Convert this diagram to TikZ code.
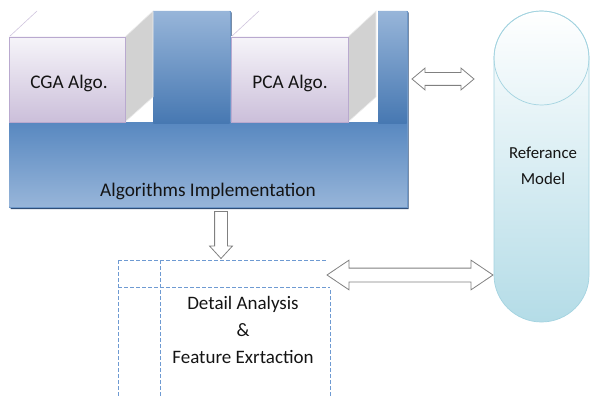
\documentclass[tikz,border=0pt]{standalone}
\usepackage{fontspec}
\setmainfont{Carlito}
\usetikzlibrary{shapes.arrows,calc}
\definecolor{bluelt}{HTML}{97B5D9}
\definecolor{bluedk}{HTML}{4A7EBB}
\definecolor{blueedge}{HTML}{2F4E78}
\definecolor{lavlt}{HTML}{F6F4F9}
\definecolor{lavdk}{HTML}{CBBFDA}
\definecolor{lavedge}{HTML}{B9A9CF}
\definecolor{sidegray}{HTML}{D2D2D2}
\definecolor{cylbot}{HTML}{B4DCE7}
\definecolor{cyledge}{HTML}{A3D3E0}
\definecolor{dashblue}{HTML}{6E9AD2}
\definecolor{arrgray}{HTML}{808080}
\definecolor{txt}{HTML}{141414}
\begin{document}
\begin{tikzpicture}[x=1pt,y=-1pt,
  lbl/.style={text=txt,inner sep=0pt,align=center},
  front/.style={top color=lavlt,bottom color=lavdk,draw=lavedge,line width=0.6pt},
  side/.style={fill=sidegray,draw=white!85!gray,line width=0.6pt},
  blockarrow/.style={draw=arrgray,fill=white,line width=0.8pt,inner xsep=0pt},
  dline/.style={draw=dashblue,line width=0.8pt,dash pattern=on 3.5pt off 2.5pt}]
\useasboundingbox (0,0) rectangle (590,396);

% --- Algorithms implementation block (comb shape) ---
\fill[blueedge] (10.5,124.5) -- (154.5,124.5) -- (154.5,12.5) -- (231.5,12.5) -- (231.5,124.5)
  -- (379.5,124.5) -- (379.5,12.5) -- (408.5,12.5) -- (408.5,209) -- (10.5,209) -- cycle;
\path[top color=bluelt,bottom color=bluelt,middle color=bluedk,draw=bluedk!80!white,line width=0.5pt]
  (9,123) -- (153,123) -- (153,11) -- (230,11) -- (230,123)
  -- (378,123) -- (378,11) -- (407,11) -- (407,207) -- (9,207) -- cycle;
\path[top color=bluedk!92!white,bottom color=bluelt] (9.4,123) rectangle (406.6,206.6);
\path[top color=bluelt,bottom color=bluedk!95!black] (153.4,11.4) rectangle (229.6,123.5);
\path[top color=bluelt,bottom color=bluedk!95!black] (378.4,11.4) rectangle (406.6,123.5);
\node[lbl,font=\fontsize{19.3}{22}\selectfont] (impl) at (208,191) {Algorithms Implementation};

% --- CGA cube ---
\path[side] (125,37) -- (153,11) -- (153,97) -- (125,122) -- cycle;
\draw[lavedge!70!white,line width=0.6pt] (9,37) -- (37,11);
\path[front] (9,37) rectangle (125,122);
\node[lbl,font=\fontsize{19.3}{22}\selectfont] (cga) at (69,83) {CGA Algo.};

% --- PCA cube ---
\path[side] (348,37) -- (376,11) -- (376,97) -- (348,122) -- cycle;
\draw[lavedge!70!white,line width=0.6pt] (231,37) -- (259,11);
\path[front] (231,37) rectangle (348,122);
\node[lbl,font=\fontsize{19.3}{22}\selectfont] (pca) at (290,83) {PCA Algo.};

% --- Reference model cylinder ---
\path[top color=white,bottom color=cylbot,draw=cyledge,line width=0.7pt]
  (494,58) -- (494,275) arc[start angle=180,end angle=360,x radius=47.5pt,y radius=47pt]
  -- (589,58) arc[start angle=0,end angle=180,x radius=47.5pt,y radius=47pt] -- cycle;
\draw[cyledge,line width=0.7pt] (541.5,58) ellipse[x radius=47.5pt,y radius=47pt];
\node[lbl,font=\fontsize{16.8}{26}\selectfont] (ref) at (543,166) {Referance\\Model};

% --- Detail analysis dashed frame ---
\draw[dline] (118,260) -- (327,260);
\draw[dline] (118,287) -- (330,287);
\draw[dline] (118,260) -- (118,396);
\draw[dline] (160,260) -- (160,396);
\draw[dline] (330,290) -- (330,396);
\node[lbl,font=\fontsize{19}{27}\selectfont] (detail) at (243,330) {Detail Analysis\\\&\\Feature Exrtaction};

% --- block arrows ---
\node[blockarrow,double arrow,minimum height=62pt,inner ysep=6pt,
  double arrow head extend=4.5pt,double arrow tip angle=80] (a1) at (443,79) {};
\node[blockarrow,double arrow,minimum height=166pt,inner ysep=6.5pt,
  double arrow head extend=8pt,double arrow tip angle=68] (a2) at (410,275) {};
\node[blockarrow,single arrow,minimum height=47pt,inner ysep=6pt,
  single arrow head extend=5pt,single arrow tip angle=85,rotate=-90] (a3) at (221,231.5) {};
\end{tikzpicture}
\end{document}
